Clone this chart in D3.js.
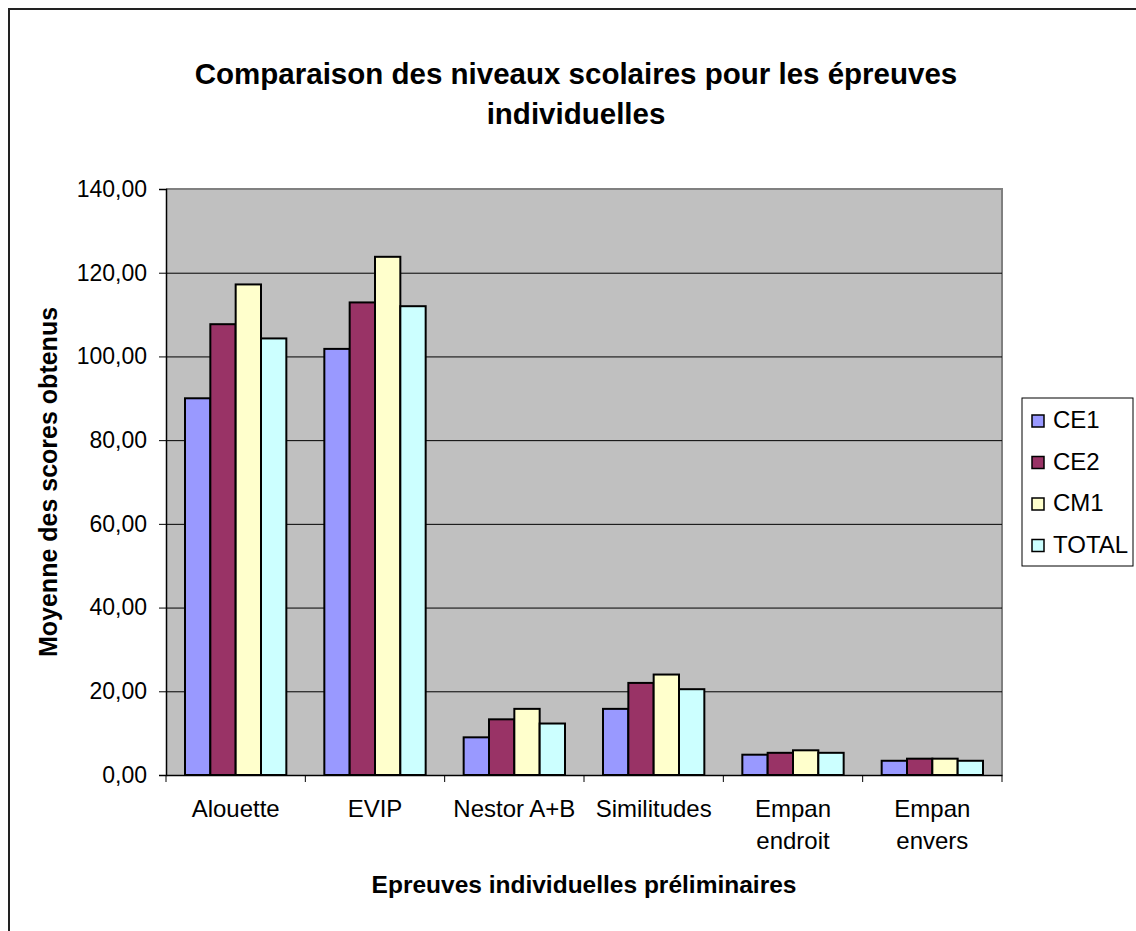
<!DOCTYPE html>
<html>
<head>
<meta charset="utf-8">
<script src="https://cdn.jsdelivr.net/npm/d3@7"></script>
<style>
  body { margin: 0; background: #fff; }
  text { font-family: "Liberation Sans", Arial, sans-serif; }
</style>
</head>
<body>
<script>
const categories = ["Alouette", "EVIP", "Nestor A+B", "Similitudes", "Empan endroit", "Empan envers"];
const seriesNames = ["CE1", "CE2", "CM1", "TOTAL"];
const ce1 = [90.0, 101.8, 9.0, 15.8, 4.85, 3.4];
const ce2 = [107.7, 112.9, 13.3, 22.0, 5.3, 3.9];
const cm1 = [117.2, 123.8, 15.8, 24.0, 5.9, 3.9];
const total = [104.3, 112.0, 12.3, 20.5, 5.3, 3.4];
const yTicks = [0, 20, 40, 60, 80, 100, 120, 140];
const colors = ["#9999FF", "#993366", "#FFFFCC", "#CCFFFF"];

const width = 1136, height = 931;
const plot = { left: 166, top: 189, right: 1002, bottom: 775 };

const svg = d3.select("body").append("svg")
  .attr("width", width).attr("height", height);

// outer chart border (cropped on the right and bottom)
svg.append("path")
  .attr("d", `M9,${height + 5}V9H${width + 5}`)
  .attr("fill", "none").attr("stroke", "#222").attr("stroke-width", 2);

const x = d3.scaleBand().domain(categories).range([plot.left, plot.right]);
// gap width 150% of one bar
const xInner = d3.scaleBand().domain(seriesNames)
  .range([0, x.bandwidth()]).paddingOuter(0.75).paddingInner(0);
const y = d3.scaleLinear().domain([0, 140]).range([plot.bottom, plot.top]);

const table = seriesNames.map((s, i) => ({ name: s, color: colors[i], values: [ce1, ce2, cm1, total][i] }));

// plot area
svg.append("rect")
  .attr("x", plot.left).attr("y", plot.top)
  .attr("width", plot.right - plot.left).attr("height", plot.bottom - plot.top)
  .attr("fill", "#C0C0C0");
svg.append("path")
  .attr("d", `M${plot.left},${plot.top}H${plot.right}V${plot.bottom}`)
  .attr("fill", "none").attr("stroke", "#808080").attr("stroke-width", 2);

// gridlines
svg.append("g").selectAll("line")
  .data(yTicks.filter(t => t > 0 && t < 140))
  .join("line")
  .attr("x1", plot.left).attr("x2", plot.right)
  .attr("y1", d => y(d) + 0.5).attr("y2", d => y(d) + 0.5)
  .attr("stroke", "#000").attr("stroke-width", 1);

// bars
const groups = svg.append("g").selectAll("g")
  .data(table).join("g")
  .attr("fill", d => d.color);
groups.selectAll("rect")
  .data(d => d.values.map((v, i) => ({ name: d.name, cat: categories[i], v })))
  .join("rect")
  .attr("x", d => x(d.cat) + xInner(d.name))
  .attr("y", d => y(d.v))
  .attr("width", xInner.bandwidth())
  .attr("height", d => y(0) - y(d.v))
  .attr("stroke", "#000").attr("stroke-width", 2);

// y axis
const yAxis = svg.append("g")
  .attr("transform", `translate(${plot.left},0)`)
  .call(d3.axisLeft(y).tickValues(yTicks).tickSize(7).tickPadding(12)
    .tickFormat(d => d3.format(".2f")(d).replace(".", ",")));
yAxis.select(".domain").attr("stroke", "#000").attr("stroke-width", 1.5);
yAxis.selectAll(".tick line").attr("stroke", "#000");
yAxis.selectAll("text").attr("font-size", 23).attr("fill", "#000")
  .style("font-family", "'Liberation Sans', Arial, sans-serif");

// x axis
const xAxis = svg.append("g")
  .attr("transform", `translate(0,${plot.bottom})`)
  .call(d3.axisBottom(x).tickSize(0).tickFormat(""));
xAxis.select(".domain").attr("stroke", "#000").attr("stroke-width", 1.5);
svg.append("g").selectAll("line")
  .data(categories.concat(["__end"]))
  .join("line")
  .attr("x1", (d, i) => i < categories.length ? x(d) : plot.right)
  .attr("x2", (d, i) => i < categories.length ? x(d) : plot.right)
  .attr("y1", plot.bottom).attr("y2", plot.bottom + 7)
  .attr("stroke", "#000");

// category labels (wrap two-word ones like "Empan endroit")
const catLabels = svg.append("g").selectAll("text")
  .data(categories).join("text")
  .attr("x", d => x(d) + x.bandwidth() / 2)
  .attr("y", 817)
  .attr("text-anchor", "middle")
  .attr("font-size", 24).attr("fill", "#000");
catLabels.each(function (d) {
  const lines = d.startsWith("Empan") ? d.split(" ") : [d];
  d3.select(this).selectAll("tspan").data(lines).join("tspan")
    .attr("x", x(d) + x.bandwidth() / 2)
    .attr("dy", (l, i) => i === 0 ? 0 : 32)
    .text(l => l);
});

// title
svg.append("text")
  .attr("x", 576).attr("y", 84)
  .attr("text-anchor", "middle").attr("font-size", 29.5).attr("font-weight", "bold")
  .selectAll("tspan")
  .data(["Comparaison des niveaux scolaires pour les épreuves", "individuelles"])
  .join("tspan")
  .attr("x", 576).attr("dy", (d, i) => i === 0 ? 0 : 40)
  .text(d => d);

// axis titles
svg.append("text")
  .attr("x", (plot.left + plot.right) / 2).attr("y", 893)
  .attr("text-anchor", "middle").attr("font-size", 24.5).attr("font-weight", "bold")
  .text("Epreuves individuelles préliminaires");
svg.append("text")
  .attr("transform", `translate(57,${(plot.top + plot.bottom) / 2}) rotate(-90)`)
  .attr("text-anchor", "middle").attr("font-size", 25).attr("font-weight", "bold")
  .text("Moyenne des scores obtenus");

// legend
const legend = svg.append("g").attr("transform", "translate(1022,398)");
legend.append("rect")
  .attr("width", 111).attr("height", 168)
  .attr("fill", "#fff").attr("stroke", "#000").attr("stroke-width", 1);
const items = legend.selectAll("g.item").data(table).join("g")
  .attr("class", "item")
  .attr("transform", (d, i) => `translate(10,${30 + i * 41.5})`);
items.append("rect")
  .attr("y", -13).attr("width", 12).attr("height", 12)
  .attr("fill", d => d.color).attr("stroke", "#000").attr("stroke-width", 1.5);
items.append("text")
  .attr("x", 21).attr("y", 0)
  .attr("font-size", 24).attr("fill", "#000")
  .text(d => d.name);
</script>
</body>
</html>
